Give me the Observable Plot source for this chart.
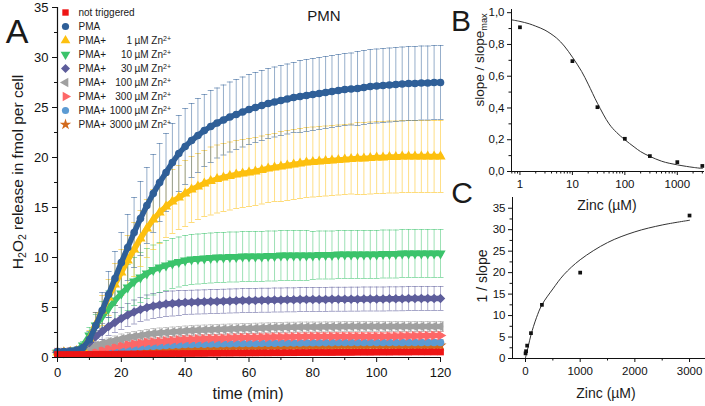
<!DOCTYPE html>
<html><head><meta charset="utf-8">
<script src="https://cdn.jsdelivr.net/npm/d3@7"></script>
<script src="https://cdn.jsdelivr.net/npm/@observablehq/plot@0.6"></script>
<style>
body{margin:0;background:#fff;font-family:"Liberation Sans",Arial,sans-serif;}
#wrap{position:relative;width:705px;height:406px;overflow:hidden;background:#fff;}
.lbl{position:absolute;white-space:nowrap;line-height:1;color:#1a1a1a;transform-origin:center center;}
.lbl .sb{font-size:0.68em;position:relative;top:0.3em;}
</style></head><body><div id="wrap"></div>
<script>
// ---------- Panel A data (time in min, H2O2 in fmol per cell) ----------
const T = [0,2,4,6,8,10,12,14,16,18,20,22,24,26,28,30,32,34,36,38,40,42,44,46,48,50,52,54,56,58,60,62,64,66,68,70,72,74,76,78,80,82,84,86,88,90,92,94,96,98,100,102,104,106,108,110,112,114,116,118,120];

const seriesNames = ["not triggered","PMA","PMA+ 1 µM Zn2+","PMA+ 10 µM Zn2+","PMA+ 30 µM Zn2+","PMA+ 100 µM Zn2+","PMA+ 300 µM Zn2+","PMA+ 1000 µM Zn2+","PMA+ 3000 µM Zn2+"];
const legendFirst = ["not triggered","PMA","PMA+","PMA+","PMA+","PMA+","PMA+","PMA+","PMA+"];
const legendConc = [null,null,"1","10","30","100","300","1000","3000"];
const legendUnit = "µM Zn";
const seriesColors = ["#ee1515","#2f5f98","#fdc00f","#3bc36b","#5d5d9b","#a0a0a0","#fd6767","#5c9bd3","#d2691c"];

const notTrig = [0.3,0.3,0.3,0.3,0.3,0.32,0.32,0.33,0.33,0.34,
 0.35,0.35,0.36,0.36,0.37,0.37,0.38,0.38,0.39,0.39,
 0.4,0.4,0.41,0.41,0.42,0.42,0.43,0.43,0.44,0.44,
 0.45,0.45,0.46,0.46,0.47,0.47,0.48,0.48,0.49,0.49,
 0.5,0.5,0.5,0.5,0.51,0.51,0.51,0.52,0.52,0.52,
 0.53,0.53,0.53,0.54,0.54,0.54,0.55,0.55,0.55,0.55,
 0.55];
const notTrigSd = [0.2,0.2,0.2,0.2,0.2,0.2,0.2,0.2,0.2,0.2,
 0.2,0.2,0.2,0.2,0.2,0.2,0.2,0.2,0.2,0.2,
 0.2,0.2,0.2,0.2,0.2,0.2,0.2,0.2,0.2,0.2,
 0.2,0.2,0.2,0.2,0.2,0.2,0.2,0.2,0.2,0.2,
 0.2,0.2,0.2,0.2,0.2,0.2,0.2,0.2,0.2,0.2,
 0.2,0.2,0.2,0.2,0.2,0.2,0.2,0.2,0.2,0.2,
 0.2];

const pma = [0.6,0.6,0.65,0.75,1.0,1.8,3.2,4.7,6.3,7.9,
 9.5,11.0,12.5,13.9,15.2,16.4,17.5,18.5,19.5,20.4,
 21.1,21.7,22.2,22.7,23.1,23.45,23.75,24.05,24.3,24.55,
 24.8,25.0,25.2,25.4,25.55,25.7,25.85,26.0,26.1,26.2,
 26.3,26.4,26.5,26.6,26.7,26.8,26.85,26.9,27.0,27.1,
 27.15,27.2,27.25,27.3,27.35,27.4,27.4,27.45,27.45,27.5,
 27.5];
const pmaSd = [0.3,0.3,0.3,0.3,0.4,0.8,1.3,1.8,2.3,2.7,
 3.0,3.3,3.5,3.7,3.8,3.9,3.9,3.9,3.9,3.8,
 3.8,3.7,3.7,3.6,3.6,3.5,3.5,3.5,3.5,3.5,
 3.5,3.5,3.5,3.5,3.5,3.5,3.5,3.5,3.6,3.6,
 3.6,3.6,3.6,3.6,3.6,3.6,3.6,3.7,3.7,3.7,
 3.7,3.7,3.7,3.7,3.7,3.7,3.7,3.7,3.7,3.7,
 3.7];

const zn1 = [0.5,0.5,0.55,0.65,0.9,1.9,3.3,4.7,6.0,7.3,
 8.5,9.7,10.8,11.9,12.9,13.8,14.5,15.1,15.6,16.0,
 16.4,16.8,17.1,17.4,17.65,17.85,18.0,18.15,18.3,18.4,
 18.5,18.6,18.75,18.9,19.0,19.1,19.2,19.3,19.4,19.5,
 19.55,19.6,19.65,19.7,19.75,19.8,19.85,19.9,19.9,19.95,
 20.0,20.0,20.05,20.05,20.1,20.1,20.1,20.1,20.1,20.1,
 20.1];
const zn1Sd = [0.3,0.3,0.3,0.3,0.4,0.8,1.2,1.5,1.8,2.1,
 2.3,2.5,2.7,2.8,2.9,3.0,3.1,3.1,3.2,3.2,
 3.3,3.3,3.3,3.3,3.4,3.4,3.4,3.4,3.4,3.4,
 3.4,3.4,3.4,3.4,3.4,3.5,3.5,3.5,3.5,3.5,
 3.5,3.5,3.5,3.5,3.5,3.5,3.5,3.6,3.6,3.6,
 3.6,3.6,3.6,3.6,3.6,3.6,3.6,3.6,3.6,3.6,
 3.6];

const zn10 = [0.5,0.5,0.55,0.7,1.2,2.2,3.2,4.1,4.9,5.7,
 6.4,7.0,7.6,8.0,8.4,8.75,9.0,9.2,9.4,9.55,
 9.7,9.8,9.85,9.9,9.95,10.0,10.0,10.05,10.05,10.1,
 10.1,10.1,10.1,10.15,10.15,10.2,10.2,10.2,10.2,10.2,
 10.2,10.25,10.25,10.25,10.3,10.3,10.3,10.3,10.3,10.3,
 10.3,10.35,10.35,10.35,10.4,10.4,10.4,10.4,10.4,10.4,
 10.4];
const zn10Sd = [0.3,0.3,0.3,0.3,0.4,0.8,1.1,1.5,1.8,2.0,
 2.2,2.3,2.4,2.5,2.5,2.5,2.5,2.5,2.5,2.5,
 2.5,2.5,2.5,2.5,2.5,2.5,2.5,2.5,2.5,2.5,
 2.5,2.5,2.5,2.5,2.5,2.5,2.5,2.5,2.5,2.5,
 2.4,2.4,2.4,2.4,2.4,2.4,2.4,2.4,2.4,2.4,
 2.4,2.4,2.4,2.4,2.4,2.4,2.4,2.4,2.4,2.4,
 2.4];

const zn30 = [0.5,0.5,0.55,0.7,1.0,1.5,2.1,2.6,3.1,3.5,
 3.9,4.25,4.55,4.8,5.0,5.15,5.25,5.35,5.4,5.45,
 5.5,5.52,5.55,5.57,5.6,5.6,5.62,5.65,5.67,5.7,
 5.7,5.7,5.72,5.72,5.75,5.75,5.77,5.77,5.8,5.8,
 5.8,5.8,5.8,5.82,5.82,5.82,5.83,5.83,5.85,5.85,
 5.85,5.85,5.87,5.87,5.88,5.9,5.9,5.9,5.9,5.9,
 5.9];
const zn30Sd = [0.2,0.2,0.2,0.2,0.3,0.5,0.6,0.8,0.9,1.0,
 1.1,1.15,1.2,1.2,1.25,1.25,1.25,1.25,1.25,1.25,
 1.2,1.2,1.2,1.2,1.2,1.2,1.2,1.2,1.2,1.2,
 1.2,1.2,1.2,1.2,1.2,1.2,1.2,1.2,1.2,1.2,
 1.2,1.2,1.2,1.2,1.2,1.2,1.2,1.2,1.2,1.2,
 1.2,1.2,1.2,1.2,1.2,1.2,1.2,1.2,1.2,1.2,
 1.2];

const zn100 = [0.5,0.5,0.55,0.6,0.8,1.0,1.2,1.4,1.55,1.7,
 1.85,2.0,2.1,2.2,2.3,2.4,2.45,2.5,2.55,2.6,
 2.65,2.7,2.72,2.75,2.78,2.8,2.82,2.85,2.87,2.9,
 2.9,2.92,2.95,2.97,3.0,3.0,3.02,3.02,3.05,3.05,
 3.05,3.05,3.07,3.07,3.08,3.1,3.1,3.1,3.1,3.1,
 3.1,3.1,3.1,3.1,3.1,3.1,3.1,3.1,3.1,3.1,
 3.1];
const zn100Sd = [0.2,0.2,0.2,0.2,0.25,0.3,0.35,0.4,0.4,0.45,
 0.5,0.5,0.5,0.5,0.5,0.5,0.5,0.5,0.5,0.5,
 0.5,0.5,0.5,0.5,0.5,0.5,0.5,0.5,0.5,0.5,
 0.5,0.5,0.5,0.5,0.5,0.5,0.5,0.5,0.5,0.5,
 0.5,0.5,0.5,0.5,0.5,0.5,0.5,0.5,0.5,0.5,
 0.5,0.5,0.5,0.5,0.5,0.5,0.5,0.5,0.5,0.5,
 0.5];

const zn300 = [0.5,0.5,0.52,0.55,0.6,0.7,0.8,0.9,1.0,1.1,
 1.2,1.28,1.35,1.42,1.5,1.55,1.6,1.65,1.7,1.75,
 1.8,1.82,1.85,1.87,1.9,1.9,1.92,1.95,1.97,2.0,
 2.0,2.0,2.02,2.02,2.05,2.05,2.05,2.07,2.07,2.1,
 2.1,2.1,2.1,2.1,2.1,2.1,2.1,2.1,2.1,2.1,
 2.1,2.1,2.12,2.12,2.15,2.15,2.15,2.17,2.17,2.2,
 2.2];
const zn300Sd = [0.2,0.2,0.2,0.2,0.2,0.25,0.3,0.3,0.35,0.35,
 0.4,0.4,0.4,0.4,0.4,0.4,0.4,0.4,0.4,0.4,
 0.4,0.4,0.4,0.4,0.4,0.4,0.4,0.4,0.4,0.4,
 0.4,0.4,0.4,0.4,0.4,0.4,0.4,0.4,0.4,0.4,
 0.4,0.4,0.4,0.4,0.4,0.4,0.4,0.4,0.4,0.4,
 0.4,0.4,0.4,0.4,0.4,0.4,0.4,0.4,0.4,0.4,
 0.4];

const zn1000 = [0.5,0.5,0.5,0.52,0.55,0.6,0.65,0.7,0.75,0.8,
 0.9,0.95,1.0,1.05,1.1,1.12,1.15,1.2,1.22,1.25,
 1.3,1.3,1.32,1.33,1.35,1.35,1.37,1.38,1.39,1.4,
 1.4,1.4,1.42,1.42,1.43,1.44,1.45,1.45,1.46,1.47,
 1.48,1.48,1.49,1.49,1.5,1.5,1.5,1.5,1.5,1.5,
 1.5,1.5,1.5,1.5,1.5,1.5,1.5,1.5,1.5,1.5,
 1.5];
const zn1000Sd = [0.2,0.2,0.2,0.2,0.2,0.2,0.2,0.2,0.2,0.2,
 0.25,0.25,0.25,0.25,0.25,0.25,0.25,0.25,0.25,0.25,
 0.25,0.25,0.25,0.25,0.25,0.25,0.25,0.25,0.25,0.25,
 0.25,0.25,0.25,0.25,0.25,0.25,0.25,0.25,0.25,0.25,
 0.25,0.25,0.25,0.25,0.25,0.25,0.25,0.25,0.25,0.25,
 0.25,0.25,0.25,0.25,0.25,0.25,0.25,0.25,0.25,0.25,
 0.25];

const zn3000 = [0.5,0.5,0.5,0.52,0.55,0.6,0.63,0.67,0.7,0.75,
 0.8,0.83,0.85,0.87,0.9,0.9,0.92,0.95,0.97,1.0,
 1.0,1.0,1.02,1.03,1.05,1.05,1.07,1.08,1.09,1.1,
 1.1,1.1,1.1,1.12,1.12,1.13,1.13,1.14,1.14,1.15,
 1.15,1.15,1.16,1.16,1.17,1.17,1.18,1.18,1.18,1.19,
 1.19,1.19,1.2,1.2,1.2,1.2,1.2,1.2,1.2,1.2,
 1.2];
const zn3000Sd = [0.25,0.25,0.25,0.25,0.25,0.25,0.25,0.25,0.25,0.25,
 0.3,0.3,0.3,0.3,0.3,0.3,0.3,0.3,0.3,0.3,
 0.3,0.3,0.3,0.3,0.3,0.3,0.3,0.3,0.3,0.3,
 0.3,0.3,0.3,0.3,0.3,0.3,0.3,0.3,0.3,0.3,
 0.3,0.3,0.3,0.3,0.3,0.3,0.3,0.3,0.3,0.3,
 0.3,0.3,0.3,0.3,0.3,0.3,0.3,0.3,0.3,0.3,
 0.3];

const xDomainA = [0, 120];
const yDomainA = [0, 35];
const xTicksA = [0,20,40,60,80,100,120];
const xMinorA = [10,30,50,70,90,110];
const yTicksA = [0,5,10,15,20,25,30,35];
const yMinorA = [2.5,7.5,12.5,17.5,22.5,27.5,32.5];

// ---------- Panel B data ----------
const bPointsX = [1,10,30,100,300,1000,3000];
const bPointsY = [0.908,0.695,0.405,0.206,0.097,0.059,0.035];
const bCurveX = [0.69,1,1.5,2,3,5,7,10,15,20,30,50,70,100,150,200,300,500,700,1000,1500,2000,3000];
const bCurveY = [0.955,0.945,0.93,0.915,0.89,0.84,0.79,0.72,0.63,0.55,0.43,0.30,0.245,0.2,0.155,0.125,0.095,0.065,0.052,0.042,0.032,0.026,0.019];
const xDomainB = [0.69, 3300];
const yDomainB = [0, 1.02];
const xTicksB = [1,10,100,1000];
const xMinorB = [0.7,0.8,0.9,2,3,4,5,6,7,8,9,20,30,40,50,60,70,80,90,200,300,400,500,600,700,800,900,2000,3000];
const yTicksB = [0,0.2,0.4,0.6,0.8,1.0];
const yMinorB = [0.1,0.3,0.5,0.7,0.9];

// ---------- Panel C data ----------
const cPointsX = [1,10,30,100,300,1000,3000];
const cPointsY = [1.2,1.7,3.0,5.9,12.5,20.0,33.3];
const cCurveX = [0,50,100,200,300,500,700,1000,1500,2000,2500,3000];
const cCurveY = [0.2,2.8,5.5,9.5,12.5,16.2,19.5,23.0,27.0,29.5,31.1,32.2];
const xDomainC = [-238, 3292];
const yDomainC = [0, 37.5];
const xTicksC = [0,1000,2000,3000];
const xMinorC = [500,1500,2500];
const yTicksC = [0,5,10,15,20,25,30,35];
const yMinorC = [2.5,7.5,12.5,17.5,22.5,27.5,32.5];

// ---------- symbols ----------
function triSym(deg){
  return {draw(ctx, size){
    const R = Math.sqrt(size / (3*Math.sqrt(3)/4));
    const a0 = deg*Math.PI/180;
    for (let k=0;k<3;k++){const a=a0+k*2*Math.PI/3;const x=R*Math.cos(a),y=R*Math.sin(a); if(k) ctx.lineTo(x,y); else ctx.moveTo(x,y);}
    ctx.closePath();
  }};
}
const diamondSym = {draw(ctx,size){const r=Math.sqrt(size/2);ctx.moveTo(0,-r);ctx.lineTo(r,0);ctx.lineTo(0,r);ctx.lineTo(-r,0);ctx.closePath();}};
const capSym = {draw(ctx){ctx.moveTo(-3,0);ctx.lineTo(3,0);}};
const seriesSymbols = [d3.symbolSquare, d3.symbolCircle, triSym(-90), triSym(90), diamondSym, triSym(180), triSym(0), d3.symbolCircle, d3.symbolStar];
const seriesVals = [notTrig,pma,zn1,zn10,zn30,zn100,zn300,zn1000,zn3000];
const seriesSds = [notTrigSd,pmaSd,zn1Sd,zn10Sd,zn30Sd,zn100Sd,zn300Sd,zn1000Sd,zn3000Sd];

const rowsBySeries = seriesVals.map((vals,k)=>vals.map((v,i)=>({t:T[i], v, lo:v-seriesSds[k][i], hi:v+seriesSds[k][i]})));

const wrap = document.getElementById("wrap");
function place(el,left,top){el.style.position="absolute";el.style.left=left+"px";el.style.top=top+"px";wrap.appendChild(el);return el;}
function label(html,cx,cy,size,rot){
  const d=document.createElement("div");d.className="lbl";d.innerHTML=html;d.style.fontSize=size+"px";
  d.style.left=cx+"px";d.style.top=cy+"px";d.style.transform="translate(-50%,-50%)"+(rot?" rotate("+rot+"deg)":"");
  wrap.appendChild(d);
}
const baseStyle = {fontFamily:"'Liberation Sans', Arial, sans-serif", color:"#111", background:"transparent", overflow:"visible"};

// ---------- Panel A ----------
const order = [8,7,6,5,4,3,2,1,0];
const marksA = [];
for (const k of order){
  const c = seriesColors[k], rows = rowsBySeries[k];
  marksA.push(Plot.ruleX(rows,{x:"t",y1:"lo",y2:"hi",stroke:c,strokeOpacity:0.5,strokeWidth:1}));
  marksA.push(Plot.dot(rows,{x:"t",y:"hi",symbol:capSym,stroke:c,fill:"none",strokeOpacity:0.55,strokeWidth:1}));
  marksA.push(Plot.dot(rows,{x:"t",y:"lo",symbol:capSym,stroke:c,fill:"none",strokeOpacity:0.55,strokeWidth:1}));
}
for (const k of order){
  const c = seriesColors[k], rows = rowsBySeries[k];
  marksA.push(Plot.line(rows,{x:"t",y:"v",stroke:c,strokeWidth:5.5}));
  marksA.push(Plot.dot(rows,{x:"t",y:"v",symbol:seriesSymbols[k],fill:c,stroke:"none",r:3.8}));
}
marksA.push(Plot.ruleX([xDomainA[0]],{stroke:"#111",strokeWidth:1.2}));
marksA.push(Plot.ruleY([yDomainA[0]],{stroke:"#111",strokeWidth:1.2}));
marksA.push(Plot.axisX({ticks:xTicksA,tickSize:5,tickPadding:5,fontSize:13,label:null,stroke:"#111"}));
marksA.push(Plot.axisX({ticks:xMinorA,tickSize:3,tickFormat:()=>"",label:null,stroke:"#111"}));
marksA.push(Plot.axisY({ticks:yTicksA,tickSize:5,tickPadding:4,fontSize:13,label:null,stroke:"#111"}));
marksA.push(Plot.axisY({ticks:yMinorA,tickSize:3,tickFormat:()=>"",label:null,stroke:"#111"}));

const plotA = Plot.plot({width:450,height:406,marginLeft:57,marginRight:10,marginTop:7,marginBottom:49,
  x:{domain:xDomainA},y:{domain:yDomainA},style:baseStyle,marks:marksA});
place(plotA,0,0);

// ---------- Legend ----------
const legendRows = seriesNames.map((n,k)=>({key:n, first:legendFirst[k], conc:legendConc[k]}));
const legendMarks = seriesNames.map((n,k)=>Plot.dot([n],{y:d=>d,frameAnchor:"left",symbol:seriesSymbols[k],fill:seriesColors[k],stroke:"none",r:3.6}));
legendMarks.push(Plot.text(legendRows,{y:"key",text:"first",frameAnchor:"left",dx:13,textAnchor:"start",fontSize:10,fill:"#1a1a1a"}));
legendMarks.push(Plot.text(legendRows.filter(d=>d.conc),{y:"key",text:"conc",frameAnchor:"left",dx:66.5,textAnchor:"end",fontSize:10,fill:"#1a1a1a"}));
legendMarks.push(Plot.text(legendRows.filter(d=>d.conc),{y:"key",text:()=>legendUnit,frameAnchor:"left",dx:69,textAnchor:"start",fontSize:10,fill:"#1a1a1a"}));
const legend = Plot.plot({width:135,height:135,marginTop:10,marginBottom:10,marginLeft:10,marginRight:0,
  y:{type:"point",domain:seriesNames,padding:0,axis:null},style:baseStyle,marks:legendMarks});
d3.select(legend).selectAll("text").filter(function(){return this.textContent===legendUnit;})
  .append("tspan").attr("dy","-0.45em").attr("font-size","7px").text("2+");
place(legend,55,0);

// ---------- Panel B ----------
const bPts = bPointsX.map((x,i)=>({x,y:bPointsY[i]}));
const bCurve = bCurveX.map((x,i)=>({x,y:bCurveY[i]}));
const commaFmt = d=>d.toFixed(1).replace(".",",");
const plotB = Plot.plot({width:240,height:210,marginLeft:46,marginRight:1,marginTop:9,marginBottom:39,
  x:{type:"log",domain:xDomainB},y:{domain:yDomainB},style:baseStyle,
  marks:[
    Plot.line(bCurve,{x:"x",y:"y",stroke:"#333",strokeWidth:1,curve:"catmull-rom"}),
    Plot.dot(bPts,{x:"x",y:"y",symbol:"square",fill:"#111",stroke:"none",r:2.1}),
    Plot.ruleX([xDomainB[0]],{stroke:"#111"}),
    Plot.ruleY([yDomainB[0]],{stroke:"#111"}),
    Plot.axisX({ticks:xTicksB,tickFormat:d3.format("d"),tickSize:4,tickPadding:4,fontSize:11.5,label:null,stroke:"#111"}),
    Plot.axisX({ticks:xMinorB,tickFormat:()=>"",tickSize:2.5,label:null,stroke:"#111"}),
    Plot.axisY({ticks:yTicksB,tickFormat:commaFmt,tickSize:4,tickPadding:3,fontSize:11.5,label:null,stroke:"#111"}),
    Plot.axisY({ticks:yMinorB,tickFormat:()=>"",tickSize:2.5,label:null,stroke:"#111"})
  ]});
place(plotB,465,0);

// ---------- Panel C ----------
const cPts = cPointsX.map((x,i)=>({x,y:cPointsY[i]}));
const cCurve = cCurveX.map((x,i)=>({x,y:cCurveY[i]}));
const plotC = Plot.plot({width:240,height:211,marginLeft:47,marginRight:0,marginTop:2,marginBottom:48,
  x:{domain:xDomainC},y:{domain:yDomainC},style:baseStyle,
  marks:[
    Plot.line(cCurve,{x:"x",y:"y",stroke:"#333",strokeWidth:1,curve:"catmull-rom"}),
    Plot.dot(cPts,{x:"x",y:"y",symbol:"square",fill:"#111",stroke:"none",r:2.1}),
    Plot.ruleX([xDomainC[0]],{stroke:"#111"}),
    Plot.ruleY([yDomainC[0]],{stroke:"#111"}),
    Plot.axisX({ticks:xTicksC,tickFormat:d3.format("d"),tickSize:4,tickPadding:4,fontSize:11.5,label:null,stroke:"#111"}),
    Plot.axisX({ticks:xMinorC,tickFormat:()=>"",tickSize:2.5,label:null,stroke:"#111"}),
    Plot.axisY({ticks:yTicksC,tickSize:4,tickPadding:3,fontSize:11.5,label:null,stroke:"#111"}),
    Plot.axisY({ticks:yMinorC,tickFormat:()=>"",tickSize:2.5,label:null,stroke:"#111"})
  ]});
place(plotC,465,195);

// ---------- Text labels ----------
label("A",17,31,34,0);
label("PMN",324,15,15,0);
label('H<span class="sb">2</span>O<span class="sb">2</span> release in fmol per cell',18,172,15.5,-90);
label("time (min)",248,394,16,0);
label("B",461,21,30,0);
label('slope / slope<span class="sb">max</span>',480,60,13.5,-90);
label("Zinc (µM)",607,205,14,0);
label("C",462,193,30,0);
label("1 / slope",482,276,14,-90);
label("Zinc (µM)",606,393,14,0);
</script></body></html>
